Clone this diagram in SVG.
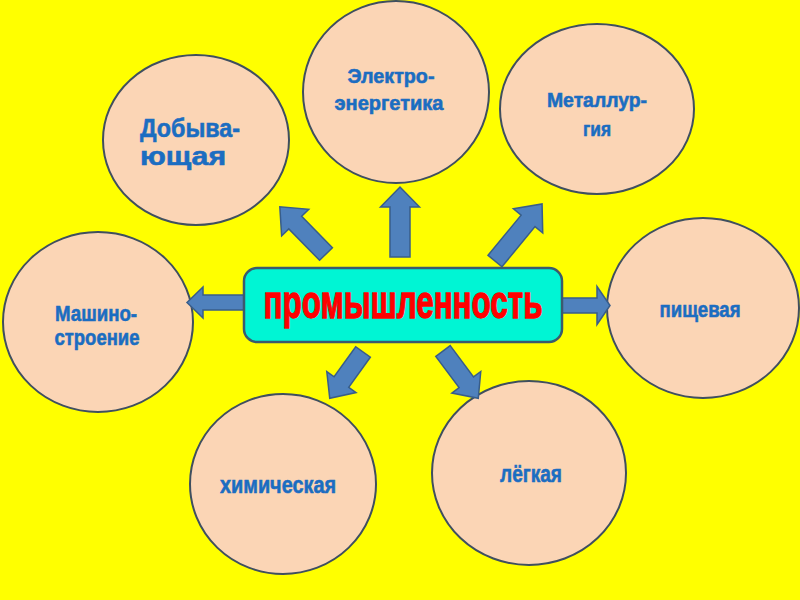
<svg xmlns="http://www.w3.org/2000/svg" width="800" height="600" viewBox="0 0 800 600">
<style>
.c{fill:#FBD5B5;stroke:#3F4F5F;stroke-width:2}
.t{font-family:"Liberation Sans",Arial,sans-serif;font-weight:bold;fill:#1B6DC1;stroke:#1B6DC1;stroke-width:0.6;text-anchor:middle}
.a{fill:#4F81BD;stroke:#385D8A;stroke-width:1.5;stroke-linejoin:miter}
.box{fill:#00F5D4;stroke:#3B5A6E;stroke-width:2.5}
.main{font-family:"Liberation Sans",Arial,sans-serif;font-weight:bold;fill:#FF0000;stroke:#FF0000;stroke-width:1.1}
</style>
<rect x="0" y="0" width="800" height="600" fill="#FFFF00"/>
<g id="n-dobyv">
<ellipse class="c" cx="196" cy="140" rx="93" ry="85"/>
<text class="t" x="190" y="137" font-size="26" textLength="100" lengthAdjust="spacingAndGlyphs">Добыва-</text>
<text class="t" x="183" y="165" font-size="26" textLength="86" lengthAdjust="spacingAndGlyphs">ющая</text>
</g>
<g id="n-elektro">
<ellipse class="c" cx="396" cy="92" rx="93" ry="91"/>
<text class="t" x="391" y="83" font-size="21" textLength="87" lengthAdjust="spacingAndGlyphs">Электро-</text>
<text class="t" x="389" y="110" font-size="21" textLength="109" lengthAdjust="spacingAndGlyphs">энергетика</text>
</g>
<g id="n-metall">
<ellipse class="c" cx="597" cy="109" rx="97" ry="85"/>
<text class="t" x="597" y="107" font-size="21" textLength="100" lengthAdjust="spacingAndGlyphs">Металлур-</text>
<text class="t" x="597" y="136" font-size="21" textLength="28" lengthAdjust="spacingAndGlyphs">гия</text>
</g>
<g id="n-pishch">
<ellipse class="c" cx="703" cy="308" rx="96" ry="90"/>
<text class="t" x="700" y="317" font-size="22" textLength="81" lengthAdjust="spacingAndGlyphs">пищевая</text>
</g>
<g id="n-mashino">
<ellipse class="c" cx="98" cy="322" rx="95" ry="90"/>
<text class="t" x="96" y="321" font-size="22" textLength="82" lengthAdjust="spacingAndGlyphs">Машино-</text>
<text class="t" x="97" y="345" font-size="22" textLength="85" lengthAdjust="spacingAndGlyphs">строение</text>
</g>
<g id="n-khim">
<ellipse class="c" cx="283" cy="484" rx="93" ry="90"/>
<text class="t" x="278" y="493" font-size="24" textLength="116" lengthAdjust="spacingAndGlyphs">химическая</text>
</g>
<g id="n-legk">
<ellipse class="c" cx="529" cy="473" rx="97" ry="92"/>
<text class="t" x="531" y="482" font-size="24" textLength="62" lengthAdjust="spacingAndGlyphs">лёгкая</text>
</g>
<g id="connectors">
<polygon class="a" transform="translate(400,257) rotate(-90)" points="0,-10 50,-10 50,-19.5 70,0 50,19.5 50,10 0,10"/>
<polygon class="a" transform="translate(326,254) rotate(-134.4)" points="0,-9 44,-9 44,-19 66,0 44,19 44,9 0,9"/>
<polygon class="a" transform="translate(495,261) rotate(-50.5)" points="0,-9 52,-9 52,-19 74,0 52,19 52,9 0,9"/>
<polygon class="a" transform="translate(250,302.5) rotate(180)" points="0,-7.5 47,-7.5 47,-15.5 63,0 47,15.5 47,7.5 0,7.5"/>
<polygon class="a" transform="translate(556,305.5)" points="0,-7.5 41,-7.5 41,-19 54,0 41,19 41,7.5 0,7.5"/>
<polygon class="a" transform="translate(363,352) rotate(125.7)" points="0,-9 37,-9 37,-18 57,0 37,18 37,9 0,9"/>
<polygon class="a" transform="translate(443,351) rotate(53.3)" points="0,-9 39,-9 39,-18 59,0 39,18 39,9 0,9"/>
</g>
<g id="n-prom">
<rect class="box" x="244" y="268" width="318" height="74" rx="13" ry="13"/>
<text class="main" transform="translate(403,318) scale(1,1.15)" x="0" y="0" font-size="40" text-anchor="middle" textLength="279" lengthAdjust="spacingAndGlyphs">промышленность</text>
</g>
</svg>
